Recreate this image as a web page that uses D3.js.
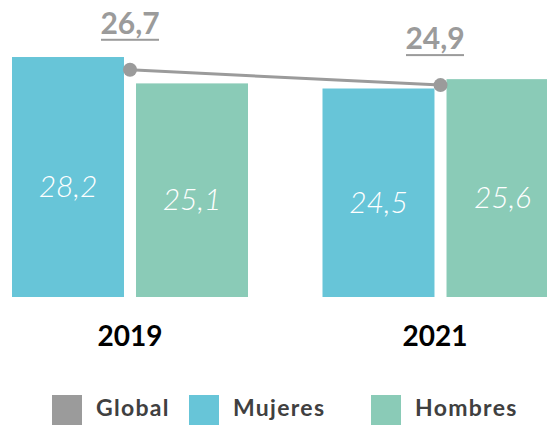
<!DOCTYPE html>
<html>
<head>
<meta charset="utf-8">
<script src="https://cdn.jsdelivr.net/npm/d3@7"></script>
<style>
  body { margin: 0; background: #fff; }
  svg { display: block; font-family: Lato, "Open Sans", sans-serif; }
</style>
</head>
<body>
<div id="chart"></div>
<script>
// data
var years = ["2019", "2021"];
var series = ["Mujeres", "Hombres"];
var mujeres = [28.2, 24.5];
var hombres = [25.1, 25.6];
var global = [26.7, 24.9];
var legendLabels = ["Global", "Mujeres", "Hombres"];

var colors = { Global: "#9b9b9b", Mujeres: "#67c5d8", Hombres: "#8acbb7" };

var svgWidth = 547;
var svgHeight = 425;
var baseY = 297;

var svg = d3.select("#chart")
  .append("svg")
  .attr("width", svgWidth)
  .attr("height", svgHeight);

// scales
var x0 = d3.scalePoint()
  .domain(years)
  .range([130, 440.5]);

// year and global labels sit a bit left of the 2021 group centre
var xLabel = d3.scalePoint()
  .domain(years)
  .range([130, 435]);

var x1 = d3.scaleBand()
  .domain(series)
  .range([-118, 118])
  .paddingInner(0.097);

var y = d3.scaleLinear()
  .domain([0, 30])
  .range([baseY, baseY - 30 * 8.51]);

var rows = years.map(function(yr, i) {
  return { year: yr, Mujeres: mujeres[i], Hombres: hombres[i], Global: global[i] };
});

var fmt = function(v) { return d3.format(".1f")(v).replace(".", ","); };

// bars
var groups = svg.append("g")
  .selectAll("g")
  .data(rows)
  .enter()
  .append("g")
  .attr("transform", d => `translate(${x0(d.year)},0)`);

var bars = groups.selectAll("g")
  .data(d => series.map(s => ({ key: s, value: d[s] })))
  .enter()
  .append("g");

bars.append("rect")
  .attr("x", d => x1(d.key))
  .attr("y", d => y(d.value))
  .attr("width", x1.bandwidth())
  .attr("height", d => baseY - y(d.value))
  .attr("fill", d => colors[d.key]);

bars.append("text")
  .attr("x", d => x1(d.key) + x1.bandwidth() / 2)
  .attr("y", d => (y(d.value) + baseY) / 2 + 20)
  .attr("text-anchor", "middle")
  .style("font-size", "30px")
  .style("font-weight", 300)
  .style("font-style", "italic")
  .style("fill", "#fff")
  .text(d => fmt(d.value));

// year labels
svg.append("g")
  .selectAll("text")
  .data(years)
  .enter()
  .append("text")
  .attr("x", d => xLabel(d))
  .attr("y", 346)
  .attr("text-anchor", "middle")
  .style("font-size", "28px")
  .style("font-weight", 700)
  .style("fill", "#000")
  .text(d => d);

// global line
var line = d3.line()
  .x(d => x0(d.year))
  .y(d => y(d.Global));

svg.append("path")
  .datum(rows)
  .attr("d", line)
  .attr("fill", "none")
  .attr("stroke", colors.Global)
  .attr("stroke-width", 3);

svg.append("g")
  .selectAll("circle")
  .data(rows)
  .enter()
  .append("circle")
  .attr("cx", d => x0(d.year))
  .attr("cy", d => y(d.Global))
  .attr("r", 7)
  .attr("fill", colors.Global);

// global labels, underlined
var gLabels = svg.append("g")
  .selectAll("g")
  .data(rows)
  .enter()
  .append("g")
  .attr("transform", d => `translate(${xLabel(d.year)},${y(d.Global) - 36})`);

gLabels.append("text")
  .attr("text-anchor", "middle")
  .style("font-size", "30px")
  .style("font-weight", 700)
  .style("fill", colors.Global)
  .text(d => fmt(d.Global));

gLabels.append("rect")
  .attr("x", -29)
  .attr("y", 5)
  .attr("width", 58)
  .attr("height", 2)
  .attr("fill", colors.Global);

// legend
var legendX = [52, 189, 371];
var legend = svg.append("g")
  .selectAll("g")
  .data(legendLabels)
  .enter()
  .append("g")
  .attr("transform", (d, i) => `translate(${legendX[i]},395)`);

legend.append("rect")
  .attr("width", 30)
  .attr("height", 30)
  .attr("fill", d => colors[d]);

legend.append("text")
  .attr("x", 44)
  .attr("y", 21)
  .style("font-size", "23px")
  .style("font-weight", 700)
  .style("letter-spacing", "1.3px")
  .style("fill", "#404040")
  .text(d => d);
</script>
</body>
</html>
